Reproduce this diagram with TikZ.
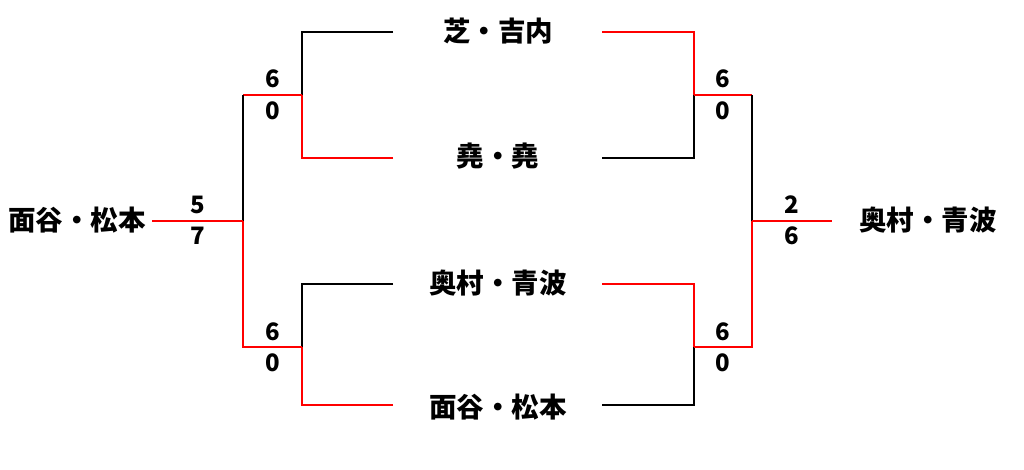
\documentclass[tikz,border=0pt]{standalone}
\usepackage{fontspec}
\newfontfamily\cjk{Noto Sans CJK JP}
\tikzset{
  team/.style={font=\cjk\bfseries\fontsize{27.5}{31}\selectfont, inner sep=0pt},
  score/.style={font=\cjk\bfseries\fontsize{24}{27}\selectfont, inner sep=0pt},
  lose/.style={black, line width=2.4pt},
  win/.style={red, line width=2.4pt}
}
\begin{document}
\begin{tikzpicture}[x=1pt,y=-1pt]
        \useasboundingbox (0,0) rectangle (1024,470);

        % teams
        \node[team] (tA) at (498,31) {芝・吉内};
        \node[team] (tB) at (498,156) {堯・堯};
        \node[team] (tC) at (498,283) {奥村・青波};
        \node[team] (tD) at (498,407) {面谷・松本};
        \node[team] (tL) at (77,220) {面谷・松本};
        \node[team] (tR) at (928,220) {奥村・青波};

        % left side
        \coordinate (la) at (393,32);
        \coordinate (lb) at (393,158);
        \coordinate (lc) at (393,284);
        \coordinate (ld) at (393,405);
        \coordinate (lab) at (302,95);
        \coordinate (lcd) at (302,347);
        \coordinate (lfin) at (243,221);
        \coordinate (lend) at (152,221);

        \draw [lose] (la) -- (la -| lab) -- (lab);
        \draw [win] (lb) -- (lb -| lab) -- (lab);
        \draw [lose] (lc) -- (lc -| lcd) -- (lcd);
        \draw [win] (ld) -- (ld -| lcd) -- (lcd);
        \draw [win] (lab) -- (lab -| lfin);
        \draw [lose] (lab -| lfin) -- (lfin);
        \draw [win] (lcd) -- (lcd -| lfin) -- (lfin);
        \draw [win] (lfin) -- (lend);

        % right side
        \coordinate (ra) at (602,32);
        \coordinate (rb) at (602,158);
        \coordinate (rc) at (602,284);
        \coordinate (rd) at (602,405);
        \coordinate (rab) at (694,95);
        \coordinate (rcd) at (694,347);
        \coordinate (rfin) at (752,221);
        \coordinate (rend) at (832,221);

        \draw [win] (ra) -- (ra -| rab) -- (rab);
        \draw [lose] (rb) -- (rb -| rab) -- (rab);
        \draw [win] (rc) -- (rc -| rcd) -- (rcd);
        \draw [lose] (rd) -- (rd -| rcd) -- (rcd);
        \draw [win] (rab) -- (rab -| rfin);
        \draw [lose] (rab -| rfin) -- (rfin);
        \draw [win] (rcd) -- (rcd -| rfin) -- (rfin);
        \draw [win] (rfin) -- (rend);

        % scores
        \node[score] (s1a) at (273,79) {6};
        \node[score] (s1b) at (273,111) {0};
        \node[score] (s2a) at (273,332) {6};
        \node[score] (s2b) at (273,363) {0};
        \node[score] (s3a) at (198,205) {5};
        \node[score] (s3b) at (198,236) {7};
        \node[score] (s4a) at (723,79) {6};
        \node[score] (s4b) at (723,111) {0};
        \node[score] (s5a) at (723,332) {6};
        \node[score] (s5b) at (723,363) {0};
        \node[score] (s6a) at (792,205) {2};
        \node[score] (s6b) at (792,236) {6};
\end{tikzpicture}
\end{document}
